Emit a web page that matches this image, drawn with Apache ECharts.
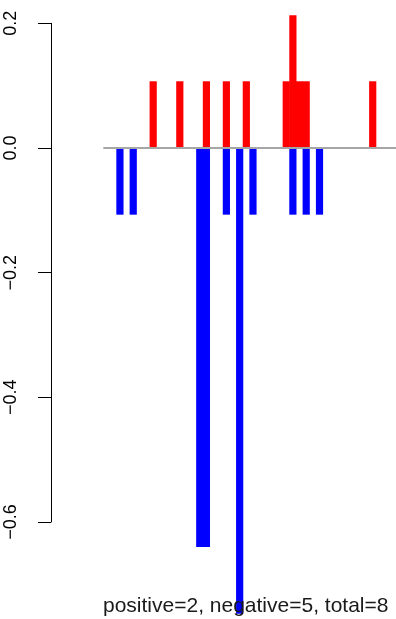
<!DOCTYPE html>
<html>
<head>
<meta charset="utf-8">
<script src="https://cdn.jsdelivr.net/npm/echarts@6/dist/echarts.min.js"></script>
<style>
html,body{margin:0;padding:0;background:#fff;}
#chart{width:396px;height:619px;}
</style>
</head>
<body>
<div id="chart"></div>
<script>
// slot labels (44 slots, hidden)
var categories = ['1','2','3','4','5','6','7','8','9','10','11','12','13','14','15','16','17','18','19','20','21','22','23','24','25','26','27','28','29','30','31','32','33','34','35','36','37','38','39','40','41','42','43','44'];
// positive (red) values per slot
var positiveValues = [null,null,null,null,null,null,null,0.107,null,null,null,0.107,null,null,null,0.107,null,null,0.107,null,null,0.107,null,null,null,null,null,0.107,0.213,0.107,0.107,null,null,null,null,null,null,null,null,null,0.107,null,null,null];
// negative (blue) values per slot
var negativeValues = [null,null,-0.107,null,-0.107,null,null,null,null,null,null,null,null,null,-0.64,-0.64,null,null,-0.107,null,-0.747,null,-0.107,null,null,null,null,null,-0.107,null,-0.107,null,-0.107,null,null,null,null,null,null,null,null,null,null,null];
var yTicks = [-0.6, -0.4, -0.2, 0.0, 0.2];
var footerText = 'positive=2, negative=5, total=8';

var chart = echarts.init(document.getElementById('chart'), null, {renderer:'canvas'});
var font = '"Liberation Sans", Arial, Helvetica, sans-serif';
chart.setOption({
  animation: false,
  backgroundColor: '#ffffff',
  textStyle: {fontFamily: font},
  title: {
    text: footerText,
    left: 103,
    top: 596,
    padding: 0,
    textStyle: {fontFamily: font, fontSize: 21, fontWeight: 'normal', color: '#1a1a1a', lineHeight: 21}
  },
  grid: {left: 103.3, right: 0, top: 23.3, bottom: 97, containLabel: false},
  xAxis: {
    type: 'category',
    data: categories,
    show: false
  },
  yAxis: {
    type: 'value',
    min: -0.6,
    max: 0.2,
    interval: 0.2,
    offset: 52.3,
    axisLine: {show: true, lineStyle: {color: '#000', width: 1}},
    axisTick: {show: true, length: 13, lineStyle: {color: '#000', width: 1}},
    splitLine: {show: false},
    axisLabel: {
      rotate: 90,
      margin: 31,
      fontSize: 18,
      fontFamily: font,
      color: '#000',
      formatter: function (v) {
        var r = Math.round(v * 10) / 10;
        var s = Math.abs(r).toFixed(1);
        return (r < 0 ? '\u2212' : '') + s;
      }
    }
  },
  series: [
    {
      type: 'bar',
      name: 'positive',
      data: positiveValues,
      barGap: '-100%',
      barWidth: 7.2,
      clip: false,
      itemStyle: {color: '#ff0000'},
      z: 2,
      markLine: {
        silent: true,
        symbol: 'none',
        label: {show: false},
        lineStyle: {color: '#a6a6a6', width: 2, type: 'solid'},
        data: [{yAxis: 0}],
        z: 5
      }
    },
    {
      type: 'bar',
      name: 'negative',
      data: negativeValues,
      barGap: '-100%',
      barWidth: 7.2,
      clip: false,
      itemStyle: {color: '#0000ff'},
      z: 2
    }
  ]
});
</script>
</body>
</html>
